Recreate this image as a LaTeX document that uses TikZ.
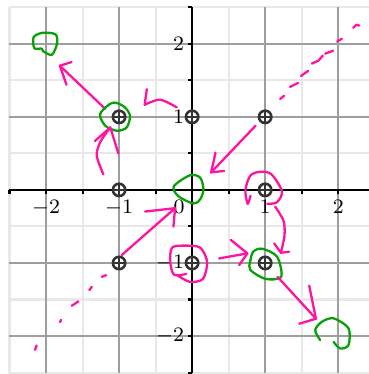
\documentclass[tikz,border=0pt]{standalone}
\usepackage{amsmath}
\definecolor{inkpink}{RGB}{255,20,160}
\definecolor{inkgreen}{RGB}{10,160,10}

\begin{document}
\begin{tikzpicture}[
		pen/.style={draw=inkpink, line width=.9pt, line cap=round, line join=round},
		ring/.style={draw=inkgreen, line width=.9pt, line cap=round, line join=round},
		dot/.style={circle, draw=black!80, line width=1pt, minimum size=.17cm, inner sep=0pt,
			path picture={\draw[black!80, line width=.6pt] (path picture bounding box.north) -- (path picture bounding box.south)
				(path picture bounding box.west) -- (path picture bounding box.east);}},
		lbl/.style={font=\fontsize{8}{9.6}\selectfont, inner sep=1pt}]
				\useasboundingbox (-2.63,-2.52) rectangle (2.42,2.60);
				\clip (-2.63,-2.52) rectangle (2.42,2.60);

				\draw[black!9, line width=.8pt, step=.5] (-2.5,-2.5) grid (2.5,2.5);
				\draw[black!38, line width=.8pt, step=1] (-2.5,-2.5) grid (2.5,2.5);
				\draw[black, line width=.9pt] (-2.5,0) -- (2.5,0) (0,-2.5) -- (0,2.5);
				\foreach \t in {-2.5,-2,...,2.5} {
					\draw[black, line width=.8pt] (\t,0) -- +(0,-.05);
					\draw[black, line width=.8pt] (0,\t) -- +(-.05,0);
				}

				\node[lbl, anchor=north] (xm2) at (-2,-.1) {$-2$};
				\node[lbl, anchor=north] (xm1) at (-1,-.1) {$-1$};
				\node[lbl, anchor=north east] (x0) at (-.06,-.1) {$0$};
				\node[lbl, anchor=north] (x1) at (1,-.1) {$1$};
				\node[lbl, anchor=north] (x2) at (2,-.1) {$2$};
				\node[lbl, anchor=east] (y2) at (-.07,2) {$2$};
				\node[lbl, anchor=east] (y1) at (-.07,1) {$1$};
				\node[lbl, anchor=east] (ym1) at (-.07,-1) {$-1$};
				\node[lbl, anchor=east] (ym2) at (-.07,-2) {$-2$};

				\node[dot] (pnw) at (-1,1) {};
				\node[dot] (pn) at (0,1) {};
				\node[dot] (pne) at (1,1) {};
				\node[dot] (pw) at (-1,0) {};
				\node[dot] (pe) at (1,0) {};
				\node[dot] (psw) at (-1,-1) {};
				\node[dot] (ps) at (0,-1) {};
				\node[dot] (pse) at (1,-1) {};

				\draw[ring] plot[smooth cycle] coordinates {(-2.17,2.09) (-2.05,2.15) (-1.87,2.13) (-1.85,2.0) (-1.92,1.85) (-2.04,1.90) (-2.06,1.935) (-2.16,1.94)};
				\draw[pen] (-1.19,1.11) -- (-1.81,1.70);
				\draw[pen] (-1.65,1.75) -- (-1.81,1.70) -- (-1.72,1.44);
				\draw[ring] plot[smooth cycle] coordinates {(-1.12,1.18) (-1.26,1.04) (-1.19,.88) (-1.03,.81) (-.895,.856) (-.85,1.015) (-.92,1.13) (-1.03,1.19)};
				\draw[pen] plot[smooth] coordinates {(-.21,1.13) (-.44,1.235) (-.65,1.165)};
				\draw[pen] (-.62,1.38) -- (-.65,1.165);
				\draw[pen] plot[smooth] coordinates {(-1.215,.213) (-1.305,.465) (-1.26,.65) (-1.12,.855)};
				\draw[pen] (-1.33,.67) -- (-1.12,.855) -- (-1.01,.5);

				\draw[pen] (1.205,1.245) -- (1.26,1.29) (1.34,1.41) -- (1.45,1.465) (1.49,1.56) -- (1.59,1.63)
					(1.64,1.73) -- (1.73,1.77) -- (1.79,1.84) (1.82,1.865) -- (1.93,1.905) (1.985,2.03) -- (2.05,2.07)
					(2.205,2.22) -- (2.25,2.26) -- (2.29,2.25);
				\draw[pen] (.87,.88) -- (.26,.24);
				\draw[pen] (.32,.51) -- (.26,.24) -- (.44,.26);
				\draw[ring] plot[smooth cycle] coordinates {(-.03,.2) (-.25,.05) (-.19,-.085) (.018,-.186) (.11,-.13) (.155,.007) (.11,.168)};

				\draw[pen] (-1.237,-1.19) -- (-1.178,-1.167) (-1.407,-1.372) -- (-1.374,-1.327) (-1.648,-1.586) -- (-1.557,-1.527)
					(-1.808,-1.81) -- (-1.795,-1.778) (-2.151,-2.19) -- (-2.128,-2.13);
				\draw[pen] (-.963,-.891) -- (-.233,-.25);
				\draw[pen] (-.644,-.296) -- (-.233,-.25) -- (-.256,-.502);

				\draw[pen] plot[smooth] coordinates {(-.19,-1.176) (-.03,-1.259) (.15,-1.217) (.205,-.983) (.11,-.79) (-.096,-.763) (-.274,-.79) (-.3,-.983) (-.247,-1.162) (-.08,-1.15)};
				\draw[pen] (.37,-.938) -- (.757,-.869);
				\draw[pen] (.53,-.685) -- (.757,-.869) -- (.644,-1.029);

				\draw[pen] plot[smooth] coordinates {(.80,-.08) (.76,-.19) (.73,0) (.80,.2) (.95,.25) (1.09,.21) (1.23,-.02) (1.16,-.17) (1.03,-.19)};
				\draw[pen] plot[smooth] coordinates {(1.137,-.23) (1.25,-.42) (1.265,-.62) (1.215,-.86)};
				\draw[pen] (1.123,-.732) -- (1.215,-.86) -- (1.329,-.846);
				\draw[ring] plot[smooth cycle] coordinates {(.836,-.846) (.96,-.805) (1.164,-.915) (1.219,-1.19) (1.0,-1.217) (.795,-1.094) (.795,-.983)};

				\draw[pen] (1.169,-1.19) -- (1.695,-1.763);
				\draw[pen] (1.603,-1.31) -- (1.695,-1.763) -- (1.466,-1.832);
				\draw[ring] plot[smooth] coordinates {(1.753,-2.056) (1.685,-1.919) (1.777,-1.805) (1.936,-1.758) (2.141,-1.895) (2.141,-2.125) (2.027,-2.17) (1.936,-2.08)};
			\end{tikzpicture}
\end{document}
